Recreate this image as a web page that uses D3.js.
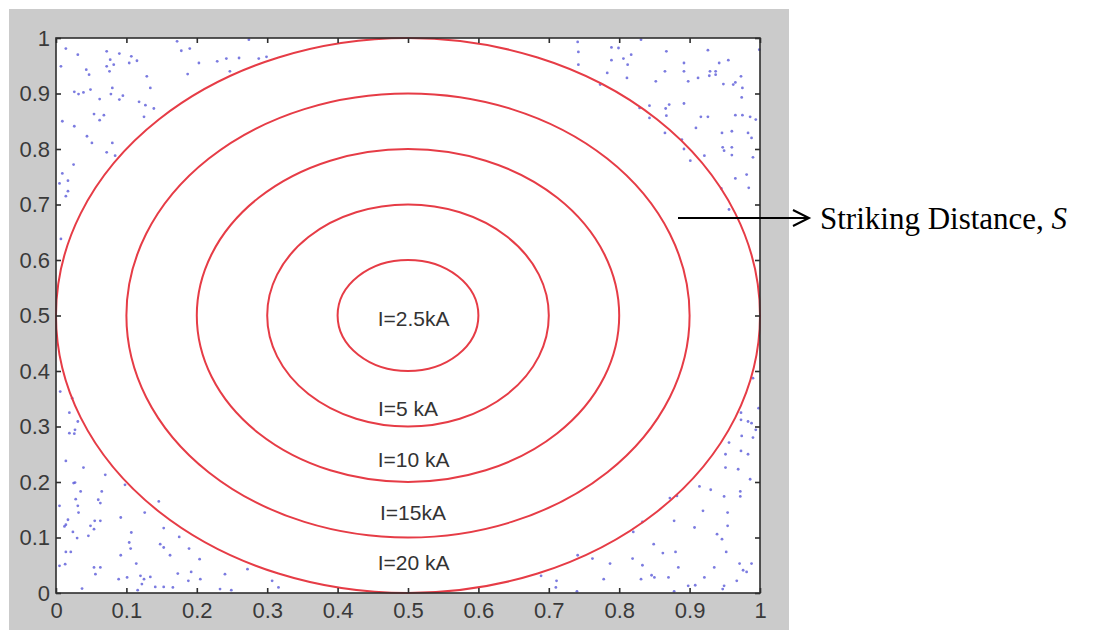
<!DOCTYPE html>
<html>
<head>
<meta charset="utf-8">
<script src="https://cdn.jsdelivr.net/npm/d3@7"></script>
<style>
  body { margin: 0; background: #fff; }
  svg { display: block; }
</style>
</head>
<body>
<div id="chart"></div>
<script>
// contour radii (normalised units), centre of the strike zone
const radii = [0.1, 0.2, 0.3, 0.4, 0.5];
const centre = [0.5, 0.5];

// current labels and where they sit
const currentLabels = ["I=2.5kA", "I=5 kA", "I=10 kA", "I=15kA", "I=20 kA"];
const labelX = [0.508, 0.50, 0.508, 0.507, 0.508];
const labelY = [0.495, 0.333, 0.24, 0.145, 0.055];

const xTicks = [0, 0.1, 0.2, 0.3, 0.4, 0.5, 0.6, 0.7, 0.8, 0.9, 1];
const yTicks = [0, 0.1, 0.2, 0.3, 0.4, 0.5, 0.6, 0.7, 0.8, 0.9, 1];

// random strike points outside the largest contour
const scatterPoints = [
  [0.014,0.981],[0.031,0.970],[0.007,0.949],[0.072,0.976],[0.090,0.972],[0.107,0.967],[0.077,0.961],
  [0.082,0.952],[0.072,0.949],[0.076,0.940],[0.043,0.943],[0.047,0.934],[0.115,0.959],[0.104,0.955],
  [0.172,0.994],[0.178,0.977],[0.190,0.981],[0.203,0.955],[0.229,0.958],[0.242,0.963],[0.260,0.964],
  [0.288,0.963],[0.299,0.966],[0.187,0.935],[0.247,0.940],[0.129,0.931],[0.134,0.910],[0.026,0.903],
  [0.032,0.899],[0.039,0.902],[0.049,0.907],[0.080,0.910],[0.062,0.890],[0.090,0.889],[0.095,0.896],
  [0.078,0.899],[0.118,0.885],[0.127,0.879],[0.139,0.873],[0.125,0.858],[0.009,0.850],[0.054,0.863],
  [0.068,0.861],[0.062,0.852],[0.026,0.841],[0.044,0.823],[0.051,0.811],[0.080,0.811],[0.072,0.794],
  [0.084,0.788],[0.025,0.772],[0.009,0.756],[0.005,0.738],[0.017,0.743],[0.017,0.724],[0.014,0.715],
  [0.007,0.638],[0.274,0.997],
  [0.741,0.993],[0.742,0.975],[0.742,0.952],[0.789,0.983],[0.799,0.982],[0.789,0.960],[0.806,0.963],
  [0.817,0.970],[0.812,0.952],[0.783,0.937],[0.811,0.928],[0.773,0.916],[0.831,0.997],[0.867,0.976],
  [0.926,0.978],[0.955,0.960],[0.942,0.955],[0.892,0.955],[0.865,0.940],[0.892,0.940],[0.929,0.940],
  [0.937,0.940],[0.937,0.934],[0.928,0.932],[0.912,0.928],[0.898,0.922],[0.852,0.922],[0.973,0.931],
  [0.948,0.917],[0.962,0.916],[0.965,0.920],[0.975,0.910],[0.974,0.893],[0.829,0.874],[0.843,0.878],
  [0.843,0.856],[0.866,0.873],[0.871,0.880],[0.867,0.860],[0.892,0.882],[0.916,0.858],[0.926,0.858],
  [0.909,0.838],[0.865,0.829],[0.889,0.817],[0.892,0.800],[0.921,0.788],[0.901,0.779],[0.946,0.829],
  [0.960,0.832],[0.965,0.861],[0.975,0.861],[0.986,0.858],[0.994,0.853],[0.983,0.829],[0.988,0.820],
  [0.947,0.803],[0.949,0.797],[0.960,0.803],[0.960,0.789],[0.990,0.785],[0.981,0.754],[0.965,0.747],
  [0.984,0.730],[0.945,0.729],[0.956,0.691],[0.999,0.979],
  [0.006,0.363],[0.023,0.351],[0.019,0.325],[0.031,0.309],[0.027,0.294],[0.019,0.288],[0.026,0.287],
  [0.014,0.238],[0.039,0.226],[0.070,0.213],[0.027,0.199],[0.025,0.198],[0.035,0.183],[0.005,0.157],
  [0.028,0.169],[0.031,0.157],[0.032,0.145],[0.065,0.183],[0.060,0.168],[0.063,0.162],[0.098,0.195],
  [0.146,0.165],[0.126,0.145],[0.092,0.136],[0.017,0.132],[0.014,0.123],[0.012,0.120],[0.024,0.110],
  [0.030,0.099],[0.049,0.121],[0.046,0.103],[0.054,0.115],[0.055,0.130],[0.063,0.130],[0.107,0.109],
  [0.104,0.091],[0.106,0.080],[0.092,0.068],[0.114,0.053],[0.153,0.117],[0.148,0.088],[0.153,0.082],
  [0.162,0.068],[0.175,0.101],[0.189,0.080],[0.204,0.061],[0.192,0.038],[0.173,0.035],[0.205,0.025],
  [0.240,0.034],[0.272,0.043],[0.014,0.074],[0.021,0.074],[0.005,0.049],[0.013,0.052],[0.054,0.046],
  [0.063,0.046],[0.056,0.034],[0.089,0.025],[0.101,0.028],[0.120,0.031],[0.125,0.025],[0.122,0.016],
  [0.134,0.029],[0.141,0.011],[0.153,0.011],[0.166,0.010],[0.188,0.022],[0.233,0.007],[0.249,0.005],
  [0.307,0.022],[0.316,0.010],[0.037,0.008],[0.116,0.005],
  [0.990,0.387],[0.998,0.333],[0.973,0.325],[0.973,0.312],[0.983,0.309],[0.988,0.306],[0.994,0.294],
  [0.974,0.283],[0.990,0.280],[0.956,0.271],[0.951,0.250],[0.973,0.256],[0.983,0.250],[0.951,0.226],
  [0.969,0.223],[0.986,0.205],[0.972,0.183],[0.972,0.174],[0.914,0.192],[0.930,0.186],[0.949,0.174],
  [0.872,0.171],[0.882,0.175],[0.954,0.145],[0.919,0.148],[0.878,0.130],[0.907,0.118],[0.954,0.121],
  [0.939,0.106],[0.946,0.097],[0.952,0.074],[0.849,0.088],[0.862,0.072],[0.880,0.074],[0.833,0.128],
  [0.820,0.110],[0.819,0.062],[0.833,0.050],[0.787,0.053],[0.762,0.062],[0.741,0.068],[0.778,0.025],
  [0.831,0.025],[0.846,0.032],[0.850,0.028],[0.870,0.028],[0.884,0.046],[0.921,0.028],[0.935,0.046],
  [0.971,0.053],[0.976,0.041],[0.981,0.038],[0.988,0.053],[0.967,0.022],[0.949,0.013],[0.947,0.007],
  [0.908,0.014],[0.898,0.013],[0.878,0.003],[0.740,0.003],[0.711,0.022],[0.710,0.010],[0.689,0.031]
];

const W = 1093, H = 630;
const svg = d3.select("#chart").append("svg")
  .attr("width", W)
  .attr("height", H);

svg.append("rect").attr("width", W).attr("height", H).attr("fill", "#fff");

// matlab style figure panel
svg.append("rect")
  .attr("x", 9).attr("y", 9)
  .attr("width", 780).attr("height", H - 9)
  .attr("fill", "#cbcbcb");

const plotL = 56, plotR = 760, plotT = 38, plotB = 593;

const x = d3.scaleLinear().domain([0, 1]).range([plotL, plotR]);
const y = d3.scaleLinear().domain([0, 1]).range([plotB, plotT]);

svg.append("rect")
  .attr("x", plotL).attr("y", plotT)
  .attr("width", plotR - plotL).attr("height", plotB - plotT)
  .attr("fill", "#fff");

// scatter
svg.append("g")
  .selectAll("circle")
  .data(scatterPoints)
  .join("circle")
  .attr("cx", d => x(d[0]))
  .attr("cy", d => y(d[1]))
  .attr("r", 1.4)
  .attr("fill", "#5a5ad8")
  .attr("opacity", 0.8);

// contours
svg.append("g")
  .selectAll("ellipse")
  .data(radii)
  .join("ellipse")
  .attr("cx", x(centre[0]))
  .attr("cy", y(centre[1]))
  .attr("rx", r => x(r) - x(0))
  .attr("ry", r => y(0) - y(r))
  .attr("fill", "none")
  .attr("stroke", "#e63c46")
  .attr("stroke-width", 2);

// labels
svg.append("g")
  .selectAll("text")
  .data(currentLabels)
  .join("text")
  .attr("x", (d, i) => x(labelX[i]))
  .attr("y", (d, i) => y(labelY[i]))
  .attr("dy", "0.35em")
  .attr("text-anchor", "middle")
  .style("font-family", "'Liberation Sans', Arial, sans-serif")
  .style("font-size", "21px")
  .attr("fill", "#333")
  .text(d => d);

// axes
const fmt = d => d3.format("")(+d.toFixed(1));
const axisFont = g => g.selectAll("text")
  .style("font-family", "'Liberation Sans', Arial, sans-serif")
  .style("font-size", "22px")
  .attr("fill", "#3a3a3a");

const styleAxis = g => {
  g.select(".domain").remove();
  g.selectAll(".tick line").attr("stroke", "#2e2e2e").attr("stroke-width", 1.6);
};

svg.append("g")
  .attr("transform", `translate(0,${plotB})`)
  .call(d3.axisBottom(x).tickValues(xTicks).tickFormat(fmt).tickSizeInner(-5).tickSizeOuter(0).tickPadding(9))
  .call(styleAxis).call(axisFont);

svg.append("g")
  .attr("transform", `translate(${plotL},0)`)
  .call(d3.axisLeft(y).tickValues(yTicks).tickFormat(fmt).tickSizeInner(-5).tickSizeOuter(0).tickPadding(6))
  .call(styleAxis).call(axisFont);

svg.append("g")
  .attr("transform", `translate(0,${plotT})`)
  .call(d3.axisTop(x).tickValues(xTicks).tickFormat("").tickSizeInner(-5).tickSizeOuter(0))
  .call(styleAxis);

svg.append("g")
  .attr("transform", `translate(${plotR},0)`)
  .call(d3.axisRight(y).tickValues(yTicks).tickFormat("").tickSizeInner(-5).tickSizeOuter(0))
  .call(styleAxis);

// axes box
svg.append("rect")
  .attr("x", plotL).attr("y", plotT)
  .attr("width", plotR - plotL).attr("height", plotB - plotT)
  .attr("fill", "none")
  .attr("stroke", "#2e2e2e")
  .attr("stroke-width", 1.6);

// annotation arrow
const ay = 218;
svg.append("line")
  .attr("x1", 678).attr("y1", ay)
  .attr("x2", 808).attr("y2", ay)
  .attr("stroke", "#000").attr("stroke-width", 2);
svg.append("path")
  .attr("d", `M793,${ay - 8} L809,${ay} L793,${ay + 8}`)
  .attr("fill", "none").attr("stroke", "#000").attr("stroke-width", 2);

const ann = svg.append("text")
  .attr("x", 820).attr("y", 229)
  .style("font-family", "'Liberation Serif', 'Times New Roman', serif")
  .style("font-size", "31px")
  .attr("fill", "#000");
ann.append("tspan").text("Striking Distance, ");
ann.append("tspan").style("font-style", "italic").text("S");
</script>
</body>
</html>
